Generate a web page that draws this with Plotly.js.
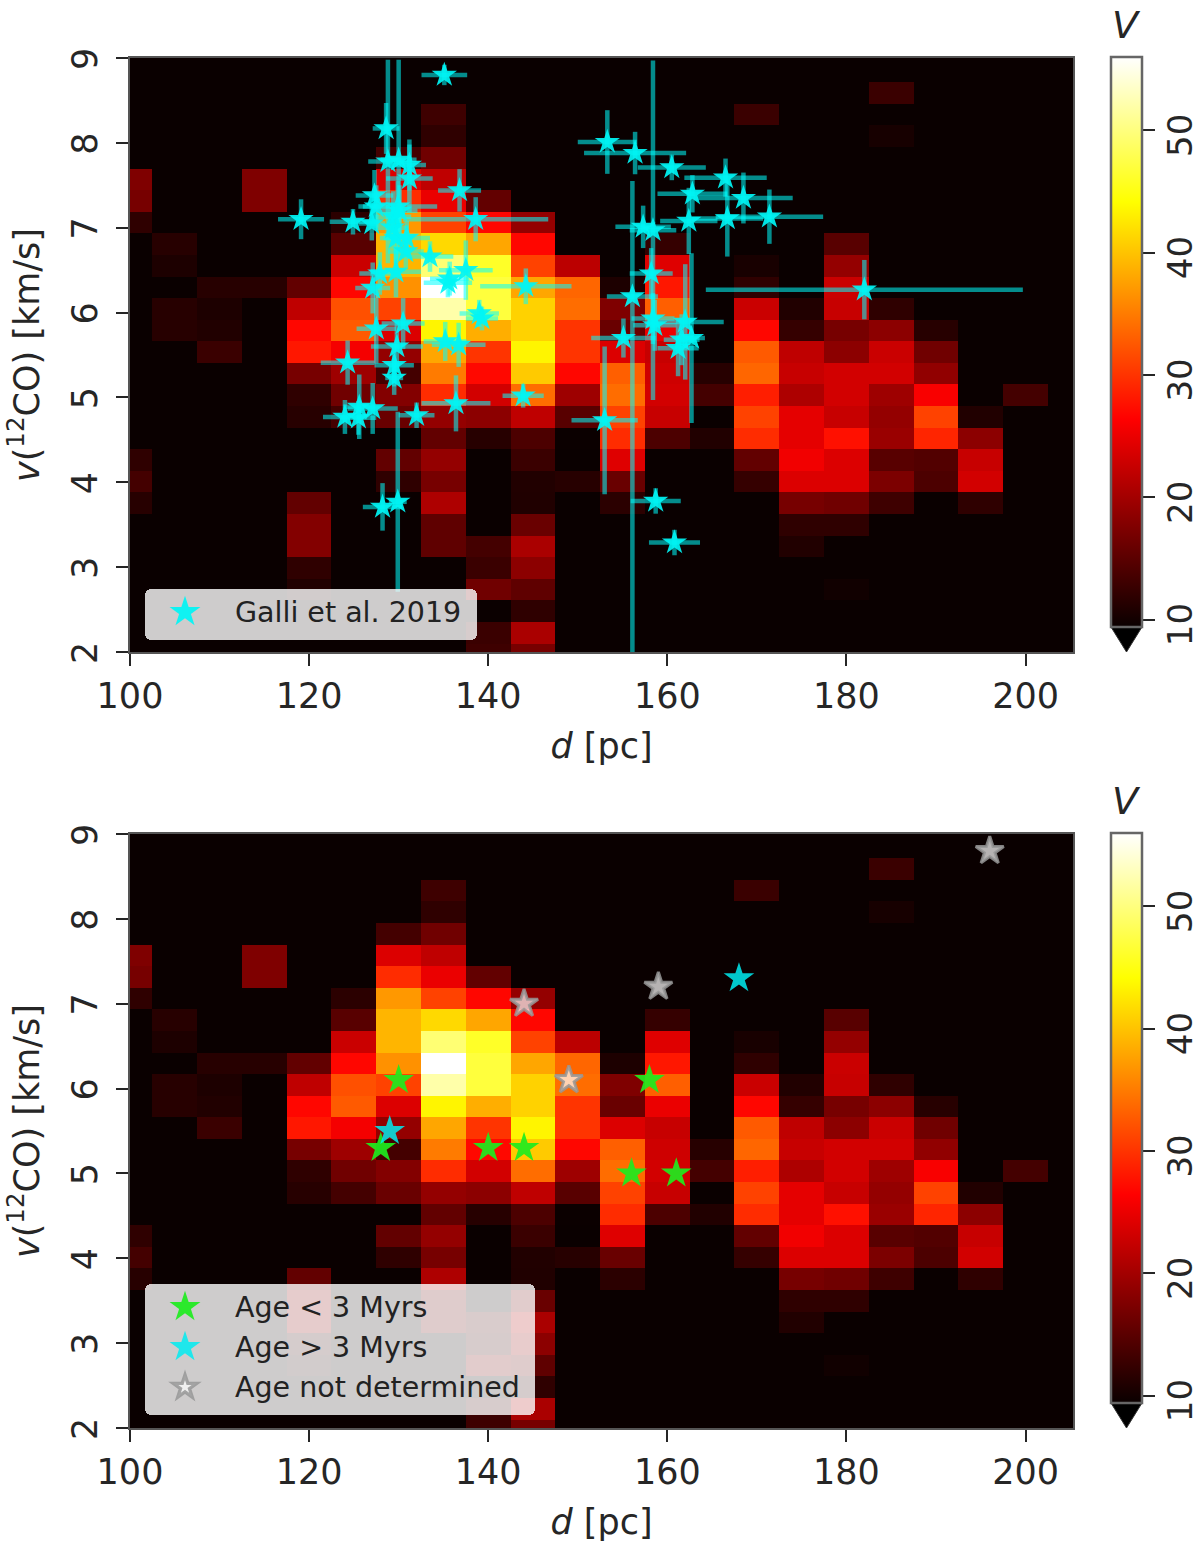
<!DOCTYPE html>
<html>
<head>
<meta charset="utf-8">
<title>d - v map</title>
<script src="https://cdn.plot.ly/plotly-3.0.1.min.js"></script>
<style>
  html, body { margin: 0; padding: 0; background: #fff; }
  #chart { width: 1200px; height: 1549px; }
</style>
</head>
<body>
<div id="chart"></div>
<script>
const distances = [100, 105, 110, 115, 120, 125, 130, 135, 140, 145, 150, 155, 160, 165, 170, 175, 180, 185, 190, 195, 200, 205];
const velocities = [9.095, 8.84, 8.586, 8.331, 8.077, 7.822, 7.568, 7.313, 7.059, 6.804, 6.55, 6.295, 6.041, 5.786, 5.532, 5.277, 5.023, 4.768, 4.514, 4.259, 4.005, 3.75, 3.496, 3.241, 2.987, 2.732, 2.478, 2.223, 1.969];

// one row per velocity channel, top to bottom
const voltage = [
  [9, 9, 9, 9, 9, 9, 9, 9, 9, 9, 9, 9, 9, 9, 9, 9, 9, 9, 9, 9, 9, 9],
  [9, 9, 9, 9, 9, 9, 9, 9, 9, 9, 9, 9, 9, 9, 9, 9, 9, 9, 9, 9, 9, 9],
  [9, 9, 9, 9, 9, 9, 9, 9, 9, 9, 9, 9, 9, 9, 9, 9, 9, 12.7, 9, 9, 9, 9],
  [9, 9, 9, 9, 9, 9, 9, 13, 9, 9, 9, 9, 9, 9, 12.7, 9, 9, 9, 9, 9, 9, 9],
  [9, 9, 9, 9, 9, 9, 9, 12, 9, 9, 9, 9, 9, 9, 9, 9, 9, 10.3, 9, 9, 9, 9],
  [9, 9, 9, 9, 9, 9, 13.4, 16.5, 9, 9, 9, 9, 9, 9, 9, 9, 9, 9, 9, 9, 9, 9],
  [17.5, 9, 9, 17.5, 9, 9, 24, 22, 9, 9, 9, 9, 9, 9, 9, 9, 9, 9, 9, 9, 9, 9],
  [17, 9, 9, 17.5, 9, 9, 29.5, 25, 15.5, 9, 9, 9, 9, 9, 9, 9, 9, 9, 9, 9, 9, 9],
  [12, 9, 9, 9, 9, 11.7, 37, 31, 26.8, 19, 9, 9, 9, 9, 9, 9, 9, 9, 9, 9, 9, 9],
  [9, 11.4, 9, 9, 9, 14.8, 39, 41.5, 38, 26.8, 9, 9, 12.4, 9, 9, 9, 14.8, 9, 9, 9, 9, 9],
  [9, 10.7, 9, 9, 9, 22.7, 39, 49.5, 46, 31, 21.7, 9, 24.2, 9, 10.4, 9, 19, 9, 9, 9, 9, 9],
  [9, 9, 11.4, 11.4, 15.5, 26.8, 36.5, 56, 47, 38, 33.5, 10.7, 28, 9, 12, 9, 22.7, 9, 9, 9, 9, 9],
  [9, 11.4, 10.7, 9, 22, 32, 31, 52, 47, 41, 34, 17.5, 33, 9, 22.7, 11, 22.5, 12, 9, 9, 9, 9],
  [9, 11.4, 11, 9, 26.8, 32.7, 24, 43.5, 38.5, 41, 30, 16, 25, 9, 26.8, 12.4, 17, 18.4, 11.4, 9, 9, 9],
  [9, 9, 12.7, 9, 28, 25.7, 19, 38, 30, 43.5, 30, 24, 22.5, 9, 32.7, 22, 18.4, 22.7, 16.5, 9, 9, 9],
  [9, 9, 9, 9, 17, 19.7, 13.4, 35, 27, 40.5, 26.8, 33, 23, 11.4, 33.5, 22.5, 23.3, 23.3, 18.8, 9, 9, 9],
  [9, 9, 9, 9, 12, 16.5, 17.8, 29.5, 23.3, 34, 19.7, 34, 23.3, 13.4, 28.5, 20.7, 23.3, 19.7, 26, 9, 13.4, 9],
  [9, 9, 9, 9, 11.4, 13.4, 16, 19, 18.4, 22, 14.8, 31, 22.5, 9, 31, 24.6, 22.5, 19, 31, 11, 9, 9],
  [9, 9, 9, 9, 9, 9, 9, 15.5, 11.4, 14, 9.5, 29.5, 14, 11, 29.5, 24.6, 27.5, 19.4, 29, 18.4, 9, 9],
  [12, 9, 9, 9, 9, 9, 15.5, 19, 9, 12.7, 9, 24.2, 9, 9, 15.5, 25.5, 24, 14.8, 14.4, 22.5, 9, 9],
  [13.4, 9, 9, 9, 9, 9, 12, 17, 9, 11, 11.4, 16, 9, 9, 12.4, 24, 24, 17.3, 14, 23.3, 9, 9],
  [11.4, 9, 9, 9, 15.5, 9, 9, 20.8, 9, 10.9, 9, 11.7, 9, 9, 9, 17, 16.5, 13, 9, 12, 9, 9],
  [9, 9, 9, 9, 17.8, 9, 9, 15.3, 9, 16, 9, 9, 9, 9, 9, 12, 12, 9, 9, 9, 9, 9],
  [9, 9, 9, 9, 17.8, 9, 9, 15.3, 13.4, 20.5, 9, 9, 9, 9, 9, 11, 9, 9, 9, 9, 9, 9],
  [9, 9, 9, 9, 12, 9, 9, 9, 12.7, 18.4, 9, 9, 9, 9, 9, 9, 9, 9, 9, 9, 9, 9],
  [9, 9, 9, 9, 11, 9, 9, 9, 16.5, 15.3, 9, 9, 9, 9, 9, 9, 9.9, 9, 9, 9, 9, 9],
  [9, 9, 9, 9, 9, 9, 9, 9, 9.5, 12, 9, 9, 9, 9, 9, 9, 9, 9, 9, 9, 9, 9],
  [9, 9, 9, 9, 9, 9, 9, 9, 12.7, 20.5, 9, 9, 9, 9, 9, 9, 9, 9, 9, 9, 9, 9],
  [9, 9, 9, 9, 9, 9, 9, 9, 13, 17, 9, 9, 9, 9, 9, 9, 9, 9, 9, 9, 9, 9]
];

const galliD = [135.1, 128.6, 128.8, 130, 131.2, 131.2, 136.8, 127.3, 127.5, 129.9, 119.1, 124.9, 138.6, 127, 129.4, 130.1, 129.3, 129.7, 130.9, 130.8, 133.5, 137.5, 129.7, 127.9, 135.5, 135.7, 144.2, 127.1, 139, 139.3, 130.5, 127.5, 135.2, 136.7, 129.8, 129.5, 124.3, 129.5, 143.9, 136.4, 125.6, 127.1, 124, 125.5, 132, 128.2, 129.9, 153.3, 156.4, 160.5, 166.5, 162.8, 168.5, 171.4, 166.7, 162.4, 157.3, 158.4, 182, 158.2, 156.1, 158.4, 158.6, 162, 162.7, 161.2, 161.6, 155.1, 153, 158.7, 160.8];
const galliV = [8.8, 8.17, 7.78, 7.8, 7.74, 7.58, 7.44, 7.38, 7.25, 7.25, 7.1, 7.07, 7.1, 7.05, 7.13, 7.2, 7, 6.88, 6.88, 6.72, 6.66, 6.5, 6.48, 6.46, 6.35, 6.4, 6.31, 6.29, 5.99, 5.93, 5.87, 5.81, 5.66, 5.62, 5.6, 5.38, 5.41, 5.23, 5.02, 4.93, 4.89, 4.87, 4.77, 4.76, 4.79, 3.71, 3.77, 8.01, 7.88, 7.71, 7.59, 7.4, 7.35, 7.13, 7.11, 7.08, 7.01, 6.97, 6.27, 6.46, 6.19, 5.93, 5.85, 5.89, 5.7, 5.58, 5.68, 5.7, 4.73, 3.78, 3.29];
const galliDErr = [2.55, 1.5, 2.2, 2, 1.85, 2.6, 2.4, 2.1, 1.5, 4.4, 2.57, 2.6, 8.1, 1.5, 2, 2, 1.8, 1.8, 2.6, 2, 2.6, 3, 2.8, 2.3, 2.7, 2.2, 5.1, 1.95, 2.2, 1.8, 2.4, 2.2, 2.4, 3, 2.9, 2.2, 3, 1, 2.3, 3.85, 1.8, 2.8, 2.45, 2, 2, 2.2, 1, 3.3, 5.7, 3.8, 4.6, 3.9, 5.5, 6, 4, 3.2, 3.1, 2.6, 17.7, 2.4, 2.85, 2.4, 2.4, 4.3, 1.5, 2.3, 2, 3.6, 3.7, 2.8, 2.85];
const galliVUp = [0.12, 0.3, 1.2, 1.18, 0.3, 0.4, 0.25, 0.3, 0.25, 0.3, 0.235, 0.15, 0.26, 0.2, 0.3, 0.3, 0.25, 0.3, 0.2, 0.2, 0.18, 0.35, 0.3, 0.25, 0.17, 0.2, 0.21, 0.3, 0.16, 0.14, 0.3, 0.41, 0.23, 0.26, 0.3, 0.25, 0.26, 0.2, 0.14, 0.33, 0.38, 0.3, 0.2, 0.2, 0.15, 0.28, 1.06, 0.375, 0.25, 0.15, 0.225, 0.22, 0.3, 0.32, 0.45, 0.39, 0.25, 2, 0.35, 0.3, 1.36, 0.3, 0.3, 0.68, 1, 0.33, 0.3, 0.23, 0.87, 0.15, 0.15];
const galliVDown = [0.12, 0.3, 1.2, 1.18, 0.3, 0.4, 0.25, 0.3, 0.25, 0.3, 0.235, 0.15, 0.26, 0.2, 0.3, 0.3, 0.25, 0.3, 0.2, 0.2, 0.18, 0.35, 0.3, 0.25, 0.17, 0.2, 0.21, 0.3, 0.16, 0.14, 0.3, 0.41, 0.23, 0.26, 0.3, 0.25, 0.26, 0.2, 0.14, 0.33, 0.38, 0.3, 0.2, 0.2, 0.15, 0.28, 1.06, 0.375, 0.25, 0.15, 0.225, 0.22, 0.3, 0.32, 0.45, 0.39, 0.25, 2, 0.35, 0.3, 4.4, 0.3, 0.3, 0.68, 1, 0.33, 0.3, 0.23, 0.87, 0.15, 0.15];

const youngD = [130, 128, 140, 144, 158, 156, 161];
const youngV = [6.1, 5.3, 5.3, 5.3, 6.1, 5, 5];
const oldD = [129, 168];
const oldV = [5.5, 7.3];
const unknownD = [144, 159, 149, 196];
const unknownV = [7, 7.2, 6.1, 8.8];

const xTicks = [100, 120, 140, 160, 180, 200];
const yTicks = [2, 3, 4, 5, 6, 7, 8, 9];
const barTicks = [10, 20, 30, 40, 50];

const W = 1200;
const H = 1549;
const FONT = "DejaVu Sans, sans-serif";
const INK = "#262626";

// matplotlib "hot"
const hot = [
  [0, "rgb(10,0,0)"],
  [0.365, "rgb(255,0,0)"],
  [0.746, "rgb(255,255,0)"],
  [1, "rgb(255,255,255)"]
];

function px(x) { return x / W; }
function py(y) { return 1 - y / H; }

function colorbar(top) {
  return {
    x: px(1111), xanchor: "left", xpad: 0,
    y: py(top + 570), yanchor: "bottom", ypad: 0,
    len: 570 / H, lenmode: "fraction",
    thickness: 31, thicknessmode: "pixels",
    outlinecolor: "#666", outlinewidth: 2.5,
    tickmode: "array", tickvals: barTicks, ticktext: barTicks.map(String),
    ticks: "outside", ticklen: 12, tickwidth: 2, tickcolor: INK,
    tickangle: -90,
    tickfont: { family: FONT, size: 34, color: INK }
  };
}

function heat(xa, ya, top) {
  return {
    type: "heatmap", x: distances, y: velocities, z: voltage,
    xaxis: xa, yaxis: ya,
    zmin: 9.4, zmax: 56, colorscale: hot, zsmooth: false,
    colorbar: colorbar(top), hoverinfo: "skip"
  };
}

function xAxis(anchor) {
  return {
    domain: [px(130), px(1073)], anchor: anchor, range: [100, 205.3],
    tickmode: "array", tickvals: xTicks,
    ticks: "outside", ticklen: 12, tickwidth: 2, tickcolor: INK,
    tickfont: { family: FONT, size: 35, color: INK },
    showgrid: false, zeroline: false, showline: true, mirror: true, linecolor: "#555", linewidth: 2,
    title: { text: "<i>d</i> [pc]", standoff: 18, font: { family: FONT, size: 35, color: INK } }
  };
}

function yAxis(domain, anchor) {
  return {
    domain: domain, anchor: anchor, range: [2, 9],
    tickmode: "array", tickvals: yTicks, tickangle: -90,
    ticklabelshift: 6, ticklabelstandoff: 5,
    ticks: "outside", ticklen: 12, tickwidth: 2, tickcolor: INK,
    tickfont: { family: FONT, size: 35, color: INK },
    showgrid: false, zeroline: false, showline: true, mirror: true, linecolor: "#555", linewidth: 2,
    title: { text: "<i>v</i>(<sup>12</sup>CO) [km/s]", standoff: 15, font: { family: FONT, size: 35, color: INK } }
  };
}

function arrow(top) {
  const base = top + 570;
  return {
    type: "path", xref: "paper", yref: "paper",
    path: `M ${px(1111)} ${py(base)} L ${px(1142)} ${py(base)} L ${px(1126.5)} ${py(base + 25)} Z`,
    fillcolor: "#000", line: { color: "#333", width: 1 }
  };
}

function barLabel(center) {
  return {
    xref: "paper", yref: "paper", x: px(1126), y: py(center),
    xanchor: "center", yanchor: "middle", showarrow: false,
    text: "<i>V</i>", font: { family: FONT, size: 38, color: INK }
  };
}

function legendBox(left, top) {
  return {
    x: px(left), xanchor: "left", y: py(top), yanchor: "top",
    bgcolor: "rgba(255,255,255,0.8)", borderwidth: 0,
    font: { family: FONT, size: 28.5, color: "#222" },
    itemwidth: 80, tracegroupgap: 0, itemclick: false, itemdoubleclick: false
  };
}

const traces = [
  heat("x", "y", 57),
  {
    type: "scatter", mode: "markers", name: "Galli et al. 2019",
    x: galliD, y: galliV, xaxis: "x", yaxis: "y", legend: "legend",
    marker: { symbol: "star", size: 19, color: "rgb(0,245,245)", opacity: 0.92, line: { width: 0 } },
    error_x: { type: "data", array: galliDErr, visible: true, color: "rgba(0,255,255,0.55)", thickness: 4.5, width: 0 },
    error_y: { type: "data", symmetric: false, array: galliVUp, arrayminus: galliVDown, visible: true, color: "rgba(0,255,255,0.55)", thickness: 4.5, width: 0 }
  },
  heat("x2", "y2", 833),
  {
    type: "scatter", mode: "markers", name: "Age < 3 Myrs", legendgroup: "a",
    x: youngD, y: youngV, xaxis: "x2", yaxis: "y2", legend: "legend2",
    marker: { symbol: "star", size: 23, color: "rgb(30,235,30)", opacity: 0.92, line: { width: 0 } }
  },
  {
    type: "scatter", mode: "markers", name: "Age > 3 Myrs", legendgroup: "b",
    x: oldD, y: oldV, xaxis: "x2", yaxis: "y2", legend: "legend2",
    marker: { symbol: "star", size: 23, color: "rgb(0,235,240)", opacity: 0.85, line: { width: 0 } }
  },
  {
    type: "scatter", mode: "markers", name: "Age not determined", legendgroup: "c",
    x: unknownD, y: unknownV, xaxis: "x2", yaxis: "y2", legend: "legend2",
    marker: { symbol: "star", size: 21, color: "rgba(255,255,255,0.7)", line: { color: "rgba(150,150,150,0.85)", width: 3 } }
  }
];

const layout = {
  width: W, height: H,
  margin: { l: 0, r: 0, t: 0, b: 0, autoexpand: false },
  paper_bgcolor: "#fff", plot_bgcolor: "#0a0000",
  font: { family: FONT, color: INK },
  showlegend: true,
  xaxis: xAxis("y"),
  yaxis: yAxis([py(652), py(58)], "x"),
  xaxis2: xAxis("y2"),
  yaxis2: yAxis([py(1428), py(834)], "x2"),
  legend: legendBox(145, 589),
  legend2: legendBox(145, 1284),
  shapes: [arrow(57), arrow(833)],
  annotations: [barLabel(25), barLabel(801)]
};

function tweakLegends() {
  document.querySelectorAll("g.legend, g.legend2").forEach(box => {
    box.querySelectorAll(".bg").forEach(rect => {
      rect.setAttribute("rx", 6);
      rect.setAttribute("width", Number(rect.getAttribute("width")) + 10);
    });
    box.querySelectorAll(".legendpoints path").forEach(star => {
      const outlined = parseFloat(star.style.strokeWidth) > 0;
      const size = outlined ? 1.1 : 1.45;
      star.setAttribute("transform", (star.getAttribute("transform") || "") + ` translate(-5,-2) scale(${size})`);
    });
    box.querySelectorAll("text").forEach(label => {
      label.setAttribute("transform", "translate(0,-3) " + (label.getAttribute("transform") || ""));
    });
  });
  // colorbar labels sit a little lower in the original
  document.querySelectorAll("g.colorbar text").forEach(label => {
    label.setAttribute("transform", "translate(-4,10) " + (label.getAttribute("transform") || ""));
  });
}

Plotly.newPlot("chart", traces, layout, { displayModeBar: false, staticPlot: true }).then(tweakLegends);
</script>
</body>
</html>
